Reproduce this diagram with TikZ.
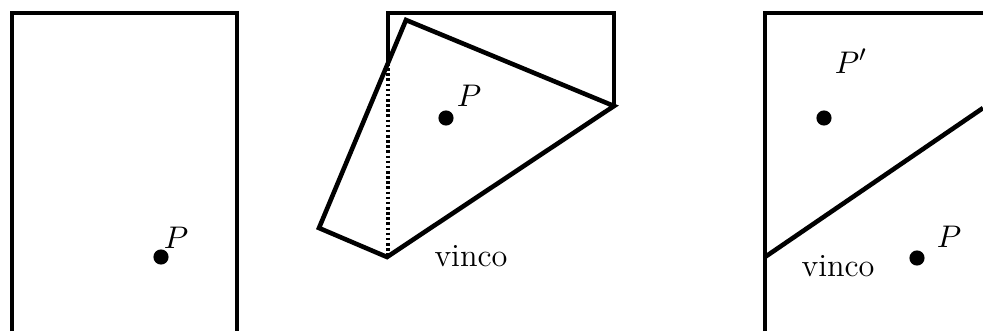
\documentclass[tikz,border=0pt]{standalone}
\usetikzlibrary{positioning}
\begin{document}
\begin{tikzpicture}[x=0.35pt,y=-0.35pt,font=\fontsize{11.3}{13}\selectfont,
    edge/.style={line width=1.6pt},
    crease/.style={line width=1.3pt,dash pattern=on 0.9pt off 0.9pt},
    dot/.style={circle,fill=black,inner sep=0pt,minimum size=5.3pt},
    lbl/.style={inner sep=0pt,anchor=base}]
  \useasboundingbox (0,0) rectangle (983,331);
  % sheet
  \draw[edge] (12,331) -- (12,13) -- (237,13) -- (237,331);
  \node[dot] (p1) at (161,257) {};
  \node[lbl] (p1lab) at (176,248) {$P$};
  % folding
  \coordinate (tl) at (388,13);
  \coordinate (tr) at (614,13);
  \coordinate (cr) at (614,106);
  \coordinate (cx) at (388,63);
  \coordinate (ft) at (406,20);
  \coordinate (fl) at (319,228);
  \coordinate (fb) at (387,257);
  \draw[edge] (cx) -- (tl) -- (tr) -- (cr);
  \draw[edge] (cr) -- (ft) -- (fl) -- (fb) -- cycle;
  \draw[crease] (cx) -- (388,257);
  \node[dot] (p2) at (446,118) {};
  \node[lbl] (p2lab) at (469,106) {$P$};
  \node[lbl] (v2) at (471,266) {vinco};
  % folded
  \coordinate (ul) at (765,13);
  \coordinate (vl) at (765,257);
  \coordinate (vr) at (983,108);
  \draw[edge] (765,331) -- (ul) -- (983,13);
  \draw[edge] (vl) -- (vr);
  \node[dot] (q) at (824,118) {};
  \node[lbl] (qlab) at (851,73) {$P'$};
  \node[dot] (p3) at (917,258) {};
  \node[lbl] (p3lab) at (949,247) {$P$};
  \node[lbl] (v3) at (838,276) {vinco};
\end{tikzpicture}
\end{document}
